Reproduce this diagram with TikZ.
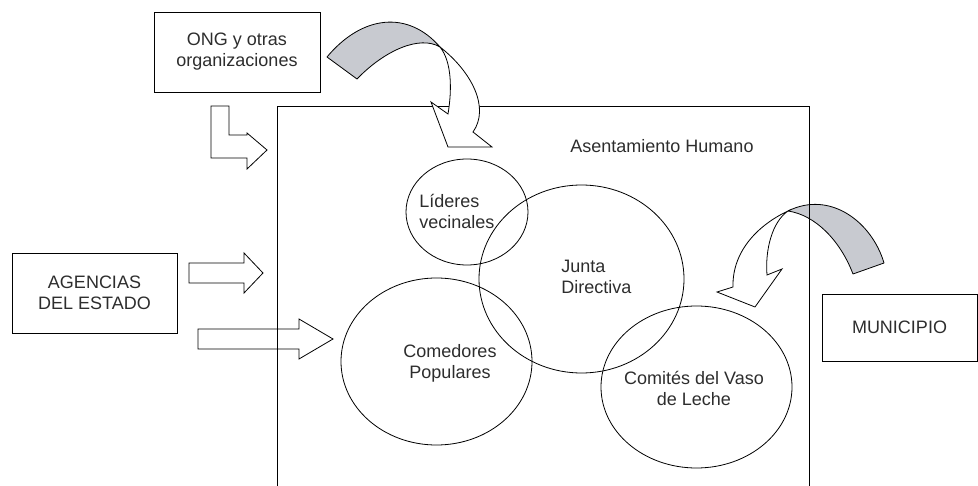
\documentclass[tikz,border=0pt]{standalone}
\usepackage{fontspec}
\setmainfont{Liberation Sans}
\usepackage{tikz}
\usetikzlibrary{shapes.geometric, positioning, calc}
\definecolor{inkgray}{RGB}{45, 45, 45}
\definecolor{ribbongray}{RGB}{200, 202, 208}

\begin{document}
\begin{tikzpicture}[
    x=1pt, y=-1pt,
    line width=0.8pt,
    txt/.style={font=\fontsize{18}{21}\selectfont, text=inkgray, align=center, inner sep=0pt},
    entity/.style={draw, txt, minimum width=166pt, minimum height=80pt},
    grupo/.style={draw, ellipse, inner sep=0pt},
    blockarrow/.style={draw, line join=miter},
    ribbonback/.style={draw, fill=ribbongray, line join=round},
    ribbonfront/.style={draw, fill=white, line join=miter}
]
    \useasboundingbox (0,0) rectangle (978,486);

    % Nodes - outside actors
    \node[entity] (ong) at (237,52) {ONG y otras\\organizaciones};
    \node[entity, minimum width=165pt] (agencias) at (94.5,293) {AGENCIAS\\DEL ESTADO};
    \node[entity, minimum width=155pt, minimum height=67pt] (municipio) at (899.5,327.5) {MUNICIPIO};

    % Nodes - groups inside the settlement
    \node[grupo, minimum width=122pt, minimum height=106pt] (lideres) at (467,212) {};
    \node[grupo, minimum width=205pt, minimum height=188pt] (junta) at (581.5,279) {};
    \node[grupo, minimum width=191pt, minimum height=167pt] (comedores) at (436.5,361.5) {};
    \node[grupo, minimum width=191pt, minimum height=162pt] (comites) at (696.5,387) {};

    \node[txt, align=left, anchor=west] (lideres-t) at (419,211) {Líderes\\vecinales};
    \node[txt, align=left, anchor=west] (junta-t) at (561,277) {Junta\\Directiva};
    \node[txt] (comedores-t) at (450,363) {Comedores\\Populares};
    \node[txt] (comites-t) at (694,388) {Comités del Vaso\\de Leche};

    % Curved arrows - back faces
    \filldraw[ribbonback] (327,57) .. controls (362,15) and (408,10) .. (440,47)
        .. controls (420,35) and (385,50) .. (357,79) -- cycle;
    \filldraw[ribbonback] (884,263) .. controls (872,222) and (830,190) .. (788,211)
        .. controls (815,215) and (840,240) .. (853,274) -- cycle;

    % Settlement frame
    \draw (277,486) -- (277,106) -- (809,106) -- (809,486);
    \node[txt] (asentamiento) at (662,146) {Asentamiento Humano};

    % Curved arrows - front faces
    \filldraw[ribbonfront] (440,47) .. controls (472,72) and (490,108) .. (473,132)
        -- (492,147) -- (448,147) -- (431,102) -- (448,114)
        .. controls (452,90) and (452,62) .. (440,47) -- cycle;
    \filldraw[ribbonfront] (788,211) .. controls (760,224) and (732,250) .. (733,287)
        -- (717,292) -- (755,307) -- (782,269) -- (767,275)
        .. controls (765,250) and (772,222) .. (788,211) -- cycle;

    % Block arrows
    \draw[blockarrow] (211,106) -- (229,106) -- (229,135) -- (247,135) -- (247,133)
        -- (267,150) -- (247,169) -- (247,158) -- (211,158) -- cycle;
    \draw[blockarrow] (189,263) -- (244,263) -- (244,253) -- (263,273)
        -- (244,293) -- (244,283) -- (189,283) -- cycle;
    \draw[blockarrow] (198,329) -- (299,329) -- (299,319) -- (333,339)
        -- (299,359) -- (299,349) -- (198,349) -- cycle;
\end{tikzpicture}
\end{document}
